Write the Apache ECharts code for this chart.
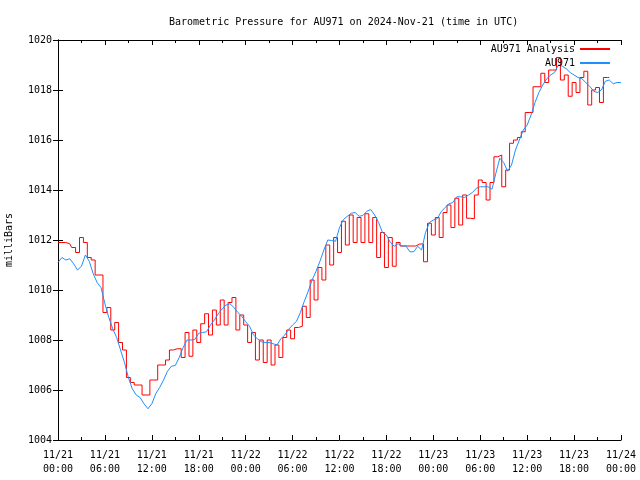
<!DOCTYPE html>
<html><head><meta charset="utf-8">
<script src="https://cdn.jsdelivr.net/npm/echarts@6/dist/echarts.min.js"></script>
<style>html,body{margin:0;padding:0;background:#fff}#c{width:640px;height:480px}</style>
</head><body><div id="c"></div>
<script>
const xTickLabels = ["11/21\n00:00","11/21\n06:00","11/21\n12:00","11/21\n18:00","11/22\n00:00","11/22\n06:00","11/22\n12:00","11/22\n18:00","11/23\n00:00","11/23\n06:00","11/23\n12:00","11/23\n18:00","11/24\n00:00"];
const stepHours = 0.5; // sampling interval of both series (hours since 11/21 00:00)
const analysisValues = [
1011.9,1011.9,1011.9,1011.85,1011.7,1011.5,1012.1,1011.9,1011.3,1011.2,
1010.6,1010.6,1009.1,1009.3,1008.4,1008.7,1007.9,1007.6,1006.5,1006.3,
1006.2,1006.2,1005.8,1005.8,1006.4,1006.4,1007.0,1007.0,1007.2,1007.6,
1007.65,1007.65,1007.3,1008.3,1007.35,1008.4,1007.9,1008.65,1009.05,1008.2,
1009.2,1008.6,1009.6,1008.6,1009.5,1009.7,1008.4,1009.0,1008.6,1007.9,
1008.3,1007.2,1008.0,1007.1,1008.0,1007.0,1007.8,1007.3,1008.1,1008.4,
1008.05,1008.5,1008.55,1009.35,1008.9,1010.4,1009.6,1010.9,1010.4,1011.8,
1011.0,1012.1,1011.5,1012.75,1011.8,1013.0,1011.9,1012.9,1011.9,1013.05,
1011.9,1012.9,1011.3,1012.3,1010.9,1012.1,1010.95,1011.9,1011.76,1011.76,
1011.76,1011.76,1011.84,1011.84,1011.13,1012.67,1012.2,1012.9,1012.1,1013.1,
1013.4,1012.5,1013.67,1012.6,1013.8,1012.87,1012.85,1013.8,1014.4,1014.3,
1013.6,1014.3,1015.33,1015.4,1014.13,1014.8,1015.87,1016.0,1016.1,1016.33,
1017.1,1017.1,1018.13,1018.13,1018.67,1018.3,1018.8,1018.8,1019.3,1018.4,
1018.6,1017.75,1018.3,1017.9,1018.5,1018.75,1017.4,1018.0,1018.1,1017.5,
1018.5,1018.5
];
const stationValues = [
1011.1,1011.3,1011.2,1011.25,1011.05,1010.8,1010.95,1011.4,1011.15,1010.65,
1010.3,1010.1,1009.45,1008.9,1008.45,1008.1,1007.6,1007.1,1006.5,1006.05,
1005.8,1005.7,1005.45,1005.25,1005.45,1005.85,1006.1,1006.4,1006.75,1006.95,
1006.98,1007.3,1007.7,1008.0,1008.0,1008.02,1008.27,1008.3,1008.33,1008.6,
1008.8,1009.05,1009.25,1009.4,1009.45,1009.3,1009.1,1008.95,1008.73,1008.55,
1008.2,1008.05,1007.93,1007.9,1007.9,1007.85,1007.8,1008.05,1008.2,1008.43,
1008.6,1008.75,1009.1,1009.55,1009.95,1010.4,1010.75,1011.15,1011.6,1012.0,
1011.98,1011.95,1012.5,1012.82,1012.95,1013.07,1013.1,1012.95,1012.98,1013.15,
1013.22,1013.0,1012.7,1012.3,1012.2,1011.9,1011.75,1011.85,1011.76,1011.76,
1011.53,1011.53,1011.75,1011.6,1012.3,1012.7,1012.8,1012.85,1013.13,1013.3,
1013.45,1013.5,1013.73,1013.73,1013.7,1013.8,1013.9,1014.07,1014.13,1014.13,
1014.13,1014.03,1014.67,1015.27,1015.1,1014.75,1015.0,1015.6,1016.0,1016.4,
1016.6,1017.0,1017.5,1017.9,1018.2,1018.45,1018.6,1018.7,1019.0,1018.95,
1018.85,1018.7,1018.6,1018.5,1018.45,1018.3,1018.15,1017.95,1017.9,1018.0,
1018.35,1018.4,1018.25,1018.3,1018.3
];
const seriesNames = ["AU971 Analysis","AU971"];

const font = "'DejaVu Sans Mono', monospace";
const toPairs = arr => arr.map((v,i)=>[i*stepHours, v]);
const chart = echarts.init(document.getElementById('c'), null, {renderer:'canvas'});
const axisCommon = {
  axisLine:{show:true,lineStyle:{color:'#000',width:1}},
  axisTick:{show:true,inside:true,length:5,lineStyle:{color:'#000'}},
  splitLine:{show:false}
};
const legendCommon = {right:30,align:'right',orient:'vertical',itemWidth:30,itemHeight:2,itemGap:0,padding:0,
  icon:'rect',textStyle:{fontFamily:font,fontSize:10,color:'#000'}};
chart.setOption({
  animation:false,
  backgroundColor:'#fff',
  title:{text:'Barometric Pressure for AU971 on 2024-Nov-21 (time in UTC)',left:164,top:12,
    textStyle:{fontFamily:font,fontSize:10,fontWeight:'normal',color:'#000'}},
  legend:[
    Object.assign({data:[seriesNames[0]],top:44},legendCommon),
    Object.assign({data:[seriesNames[1]],top:58},legendCommon)
  ],
  grid:{left:58,right:19,top:40,bottom:40,containLabel:false,outerBoundsMode:'none'},
  xAxis:[
    Object.assign({type:'value',min:0,max:72,interval:6,position:'bottom',
      minorTick:{show:true,splitNumber:2,length:3,lineStyle:{color:'#000'}},
      axisLabel:{fontFamily:font,fontSize:10,color:'#000',margin:8,lineHeight:14,
        formatter:v=>xTickLabels[Math.round(v/6)]}},axisCommon),
    Object.assign({type:'value',min:0,max:72,interval:6,position:'top',
      minorTick:{show:true,splitNumber:2,length:3,lineStyle:{color:'#000'}},
      axisLabel:{show:false}},axisCommon)
  ],
  yAxis:[
    Object.assign({type:'value',min:1004,max:1020,interval:2,position:'left',
      name:'milliBars',nameLocation:'middle',nameGap:44,nameRotate:90,
      nameTextStyle:{fontFamily:font,fontSize:10,color:'#000'},
      axisLabel:{fontFamily:font,fontSize:10,color:'#000',margin:6,formatter:v=>String(v)}},axisCommon),
    Object.assign({type:'value',min:1004,max:1020,interval:2,position:'right',
      axisLabel:{show:false}},axisCommon)
  ],
  series:[
    {name:seriesNames[0],type:'line',step:'middle',data:toPairs(analysisValues),showSymbol:false,
     lineStyle:{color:'#ff0000',width:1},itemStyle:{color:'#ff0000'},z:2},
    {name:seriesNames[1],type:'line',data:toPairs(stationValues),showSymbol:false,
     lineStyle:{color:'#1e90ff',width:1},itemStyle:{color:'#1e90ff'},z:3}
  ]
});
</script></body></html>
